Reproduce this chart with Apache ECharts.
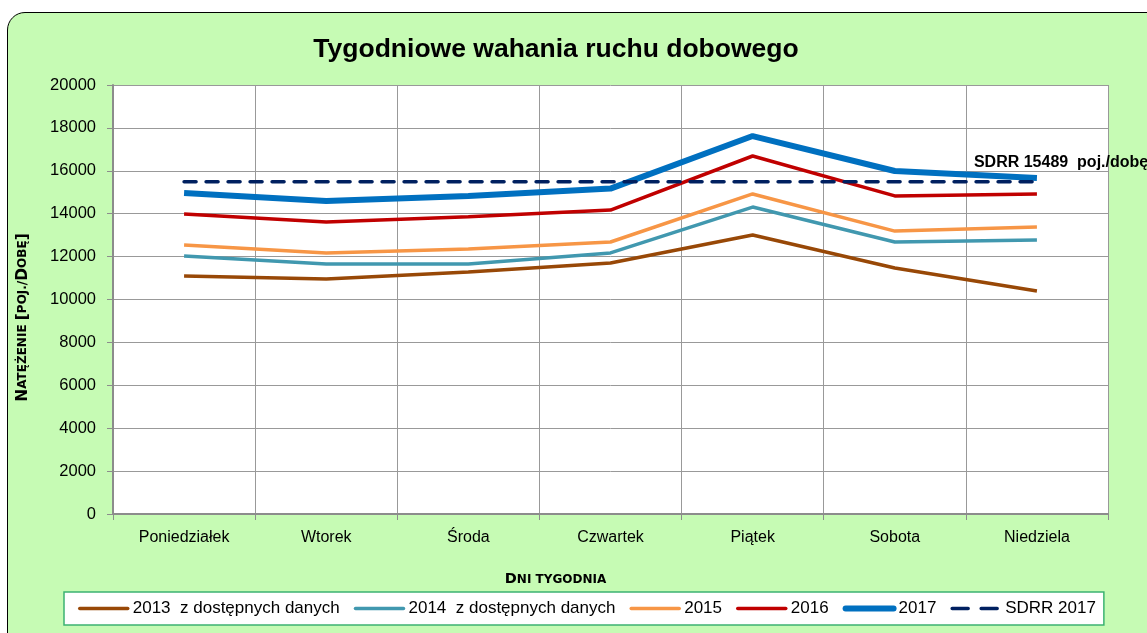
<!DOCTYPE html>
<html>
<head>
<meta charset="utf-8">
<script src="https://cdn.jsdelivr.net/npm/echarts@6/dist/echarts.min.js"></script>
<style>
html,body{margin:0;padding:0;background:#fff;overflow:hidden;}
#bg{position:absolute;left:7px;top:12px;width:1170px;height:660px;background:#C6FBB4;border:1.5px solid #000;border-radius:18px;}
#chart{position:absolute;left:0;top:0;width:1147px;height:633px;}
</style>
</head>
<body>
<div id="bg"></div>
<div id="chart"></div>
<script>
const days = ['Poniedziałek','Wtorek','Środa','Czwartek','Piątek','Sobota','Niedziela'];
const yTicks = [0,2000,4000,6000,8000,10000,12000,14000,16000,18000,20000];
const s2013 = [11100,10960,11280,11700,13010,11470,10400];
const s2014 = [12030,11650,11650,12170,14310,12680,12770];
const s2015 = [12540,12170,12350,12680,14920,13190,13380];
const s2016 = [13990,13610,13860,14170,16690,14830,14920];
const s2017 = [14970,14590,14830,15170,17620,15990,15660];
const sdrrValue = 15489;
const sdrr = days.map(() => sdrrValue);
const names = ['2013  z dostępnych danych','2014  z dostępnych danych','2015','2016','2017','SDRR 2017'];
const colors = ['#984807','#4198AF','#F79646','#C00000','#0070C0','#002060'];
const widths = [3.5,3.5,3.5,3.5,6,3.5];

const chart = echarts.init(document.getElementById('chart'), null, {renderer:'canvas'});
const font = 'Liberation Sans, Arial, sans-serif';
const capsFont = 'DejaVu Sans, Liberation Sans, sans-serif';
function line(i, data, extra) {
  return Object.assign({
    name:names[i], type:'line', data, symbol:'none', showSymbol:false,
    lineStyle:{color:colors[i], width:widths[i]}, itemStyle:{color:colors[i]}, animation:false
  }, extra || {});
}
chart.setOption({
  textStyle:{fontFamily:font},
  title:{text:'Tygodniowe wahania ruchu dobowego', left:551, top:31, textAlign:'center',
    textStyle:{fontSize:26.5, fontWeight:'bold', color:'#000', fontFamily:font}},
  grid:{left:113, right:39, top:85, bottom:119, show:true, backgroundColor:'#fff', borderWidth:0},
  xAxis:{type:'category', data:days, boundaryGap:true,
    axisLine:{lineStyle:{color:'#8c8c8c', width:2}},
    axisTick:{show:true, length:6, lineStyle:{color:'#8c8c8c'}},
    axisLabel:{color:'#000', fontSize:16, margin:16, fontFamily:font},
    splitLine:{show:true, lineStyle:{color:'#999999', width:1}},
    name:'{a|D}{b|NI TYGODNIA}', nameLocation:'middle', nameGap:58,
    nameTextStyle:{padding:[0,110,0,0], rich:{a:{fontSize:14.5, fontWeight:'bold', color:'#000', fontFamily:capsFont},
                         b:{fontSize:12, fontWeight:'bold', color:'#000', fontFamily:capsFont}}}
  },
  yAxis:{type:'value', min:yTicks[0], max:yTicks[yTicks.length-1], interval:2000,
    axisLine:{show:true, lineStyle:{color:'#8c8c8c', width:2}},
    axisTick:{show:true, length:6, lineStyle:{color:'#8c8c8c'}},
    axisLabel:{color:'#000', fontSize:16.5, margin:17, fontFamily:font, formatter:v => String(v)},
    splitLine:{show:true, lineStyle:{color:'#999999', width:1}},
    name:'{a|N}{b|ATĘŻENIE }{a|[}{b|POJ./}{a|D}{b|OBĘ}{a|]}', nameLocation:'middle', nameGap:82, nameRotate:90,
    nameTextStyle:{padding:[0,36,0,0], rich:{a:{fontSize:15.5, fontWeight:'bold', color:'#000', fontFamily:capsFont},
                         b:{fontSize:12, fontWeight:'bold', color:'#000', fontFamily:capsFont}}}
  },
  legend:{
    data:names.map((n,i) => ({name:n, lineStyle:{width:widths[i], type: i===5 ? [16,13] : 'solid', cap:'round'}})),
    left:64, top:592, itemWidth:48, itemHeight:10, itemGap:14,
    itemStyle:{opacity:0},
    backgroundColor:'#fff', borderColor:'#3CB371', borderWidth:1.5, borderRadius:0,
    padding:[8,8,8,14],
    textStyle:{fontSize:17, color:'#000', fontFamily:font}},
  series:[
    line(0, s2013),
    line(1, s2014),
    line(2, s2015),
    line(3, s2016),
    line(4, s2017),
    line(5, sdrr, {
      lineStyle:{color:colors[5], width:widths[5], type:[12,10], cap:'round'},
      endLabel:{show:true, formatter:'SDRR 15489  poj./dobę', offset:[-71,-19],
        fontSize:16, fontWeight:'bold', color:'#000', fontFamily:font}
    })
  ]
});
</script>
</body>
</html>
